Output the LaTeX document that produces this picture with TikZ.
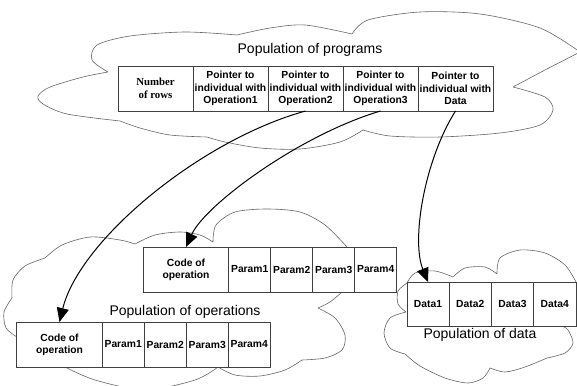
\documentclass[tikz,border=0pt]{standalone}
\usepackage{fontspec}
\setmainfont{Liberation Sans}
\newfontfamily\timesfont{Liberation Serif}
\usetikzlibrary{positioning,arrows.meta}

\tikzset{
  cloudline/.style={draw=black!60, line width=0.6pt},
  cell/.style={draw=black!75, fill=white, line width=0.6pt, inner sep=0pt, outer sep=0pt,
    align=center, font=\fontsize{10.3}{12.3}\selectfont\bfseries},
  pcell/.style={cell, minimum width=75pt, minimum height=45pt},
  codecell/.style={cell, minimum width=85.5pt, minimum height=45pt},
  parcell/.style={cell, minimum width=42pt, minimum height=45pt},
  datcell/.style={cell, minimum width=42.25pt, minimum height=44pt},
  title/.style={font=\fontsize{14}{16}\selectfont},
  link/.style={line width=1pt, -{Triangle[length=14pt,width=12pt]}}
}

\begin{document}
\begin{tikzpicture}[x=1pt,y=-1pt]
\useasboundingbox[fill=white] (0,0) rectangle (577,385);

% cloud of programs
\draw[cloudline]
  plot[smooth] coordinates {(108,72) (92,60) (97,45) (130,36) (185,32) (237,35)}
  plot[smooth] coordinates {(237,35) (270,28) (305,25) (352,34)}
  plot[smooth] coordinates {(352,34) (368,20) (420,12) (480,14) (540,28) (580,52)}
  plot[smooth] coordinates {(580,52) (545,70) (513,87)}
  plot[smooth] coordinates {(513,87) (545,97) (553,110) (540,125) (500,133) (440,137) (390,136) (363,130)}
  plot[smooth] coordinates {(363,130) (340,142) (300,149) (260,148) (225,142) (207,137)}
  plot[smooth] coordinates {(207,137) (170,135) (140,128) (120,121)}
  plot[smooth] coordinates {(120,121) (67,114) (43,104) (38,96) (50,87) (83,77) (108,72)};

% cloud of operations
\draw[cloudline]
  plot[smooth] coordinates {(45,258) (62,245) (90,237) (120,240) (135,244)}
  plot[smooth] coordinates {(135,244) (155,235) (180,232) (200,235) (213,242)}
  plot[smooth] coordinates {(213,242) (216,225) (235,212) (267,209) (300,212) (325,225) (347,247)}
  plot[smooth] coordinates {(342,292) (330,302) (318,308)}
  plot[smooth] coordinates {(318,308) (335,318) (345,335) (342,350) (325,358) (302,360)}
  plot[smooth] coordinates {(302,360) (285,370) (260,376) (235,375) (218,367)}
  plot[smooth] coordinates {(218,367) (195,380) (145,390) (95,380) (65,367)}
  plot[smooth] coordinates {(45,258) (25,266) (13,280) (12,298)}
  plot[smooth] coordinates {(12,298) (4,312) (6,328) (17,337)};

% cloud of data
\draw[cloudline]
  plot[smooth] coordinates {(407,283) (398,291) (398,304) (406,312)}
  plot[smooth] coordinates {(406,312) (390,318) (384,333) (390,348) (405,354)}
  plot[smooth] coordinates {(405,354) (420,366) (445,378) (468,383) (483,378) (490,368)}
  plot[smooth] coordinates {(490,368) (505,372) (525,367) (547,358)}
  plot[smooth] coordinates {(547,358) (565,353) (573,343) (568,330) (562,326)}
  plot[smooth] coordinates {(407,283) (415,273) (435,271) (453,277)}
  plot[smooth] coordinates {(453,277) (465,268) (485,267) (497,274)}
  plot[smooth] coordinates {(497,274) (500,258) (520,250) (545,253) (565,265) (576,282)};

% population of programs
\node[title] (ptitle) at (310,50) {Population of programs};
\node[pcell, font=\fontsize{10.8}{12.5}\selectfont\timesfont\bfseries] (rows) at (155.5,88.5) {Number\\of rows};
\node[pcell, right=0pt of rows] (op1) {Pointer to\\individual with\\Operation1};
\node[pcell, right=0pt of op1] (op2) {Pointer to\\individual with\\Operation2};
\node[pcell, right=0pt of op2] (op3) {Pointer to\\individual with\\Operation3};
\node[pcell, right=0pt of op3] (dat) {Pointer to\\individual with\\Data};

% population of operations
\node[codecell] (ucode) at (186,269.5) {Code of\\operation};
\node[parcell, right=0pt of ucode] (up1) {Param1};
\node[parcell, right=0pt of up1] (up2) {Param2};
\node[parcell, right=0pt of up2] (up3) {Param3};
\node[parcell, right=0pt of up3] (up4) {Param4};

\node[title] (otitle) at (185,312) {Population of operations};
\node[codecell] (lcode) at (59.5,344.5) {Code of\\operation};
\node[parcell, right=0pt of lcode] (lp1) {Param1};
\node[parcell, right=0pt of lp1] (lp2) {Param2};
\node[parcell, right=0pt of lp2] (lp3) {Param3};
\node[parcell, right=0pt of lp3] (lp4) {Param4};

% population of data
\node[datcell] (d1) at (428,304) {Data1};
\node[datcell, right=0pt of d1] (d2) {Data2};
\node[datcell, right=0pt of d2] (d3) {Data3};
\node[datcell, right=0pt of d3] (d4) {Data4};
\node[title] (dtitle) at (480,335) {Population of data};

\draw[link] (op2.south) .. controls +(-105,29) and +(20,-82) .. (lcode.north);
\draw[link] (op3.south) .. controls +(-81,24) and +(19,-42) .. (ucode.north);
\draw[link] (dat.south) .. controls +(-31,49) and +(-17,-42) .. (d1.north);
\end{tikzpicture}
\end{document}
